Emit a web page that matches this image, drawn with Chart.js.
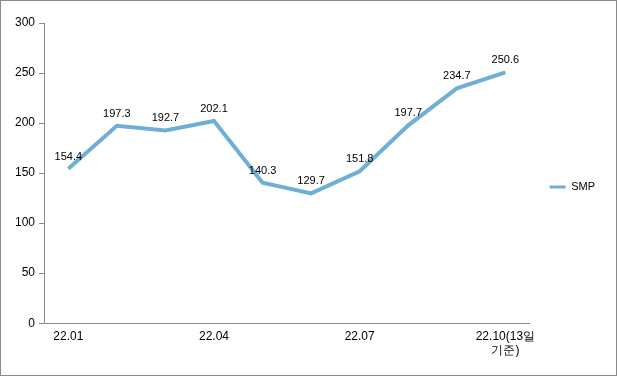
<!DOCTYPE html>
<html>
<head>
<meta charset="utf-8">
<script src="https://cdn.jsdelivr.net/npm/chart.js@4"></script>
<style>
  html, body { margin: 0; padding: 0; background: #fff; }
  #wrap { width: 617px; height: 376px; box-sizing: border-box; border: 1px solid #8a8a8a; position: relative; }
  canvas { display: block; }
</style>
</head>
<body>
<div id="wrap"><canvas id="smpChart" width="615" height="374"></canvas></div>
<script>
// SMP monthly values
const months = ['22.01', '22.02', '22.03', '22.04', '22.05', '22.06', '22.07', '22.08', '22.09', ['22.10(13일', '기준)']];
const smpValues = [154.4, 197.3, 192.7, 202.1, 140.3, 129.7, 151.8, 197.7, 234.7, 250.6];
const shownTicks = [0, 3, 6, 9];
const yTicks = [0, 50, 100, 150, 200, 250, 300];

const lineColor = '#6fafd4';
const fontFamily = '"Liberation Sans", Arial, sans-serif';

// value labels above each point
const valueLabels = {
    id: 'valueLabels',
    afterDatasetsDraw(chart) {
        const ctx = chart.ctx;
        const meta = chart.getDatasetMeta(0);
        ctx.save();
        ctx.font = '11px ' + fontFamily;
        ctx.fillStyle = '#000';
        ctx.textAlign = 'center';
        ctx.textBaseline = 'middle';
        meta.data.forEach(function (pt, i) {
            ctx.fillText(smpValues[i].toFixed(1), pt.x, pt.y - 12);
        });
        ctx.restore();
    }
};

// nudge legend up a bit so it sits beside the plot's middle
const legendShift = {
    id: 'legendShift',
    afterLayout(chart) {
        if (chart.legend) {
            chart.legend.top -= 12;
            chart.legend.bottom -= 12;
        }
    }
};

new Chart(document.getElementById('smpChart'), {
    type: 'line',
    data: {
        labels: months,
        datasets: [{
            label: 'SMP',
            data: smpValues,
            borderColor: lineColor,
            backgroundColor: lineColor,
            borderWidth: 4,
            pointRadius: 0,
            tension: 0
        }]
    },
    options: {
        responsive: false,
        animation: false,
        layout: { padding: { top: 22, left: 10, right: 11, bottom: 0 } },
        plugins: {
            legend: {
                position: 'right',
                labels: {
                    boxWidth: 16,
                    boxHeight: 3,
                    padding: 20,
                    color: '#000',
                    font: { size: 11, family: fontFamily },
                    generateLabels: function (chart) {
                        const items = Chart.defaults.plugins.legend.labels.generateLabels(chart);
                        items.forEach(function (it) { it.lineWidth = 0; });
                        return items;
                    }
                }
            },
            tooltip: { enabled: false }
        },
        scales: {
            x: {
                offset: true,
                grid: { display: false, drawTicks: false },
                border: { color: '#888', width: 1 },
                afterFit: function (scale) { scale.height += 11; },
                ticks: {
                    autoSkip: false,
                    maxRotation: 0,
                    padding: 6,
                    color: '#000',
                    font: { size: 12, family: fontFamily },
                    callback: function (v, i) { return shownTicks.includes(i) ? months[i] : ''; }
                }
            },
            y: {
                min: yTicks[0],
                max: yTicks[yTicks.length - 1],
                grid: { drawOnChartArea: false, tickLength: 5, color: '#888' },
                border: { color: '#888', width: 1 },
                ticks: {
                    stepSize: 50,
                    padding: 4,
                    color: '#000',
                    font: { size: 12, family: fontFamily }
                }
            }
        }
    },
    plugins: [valueLabels, legendShift]
});
</script>
</body>
</html>
